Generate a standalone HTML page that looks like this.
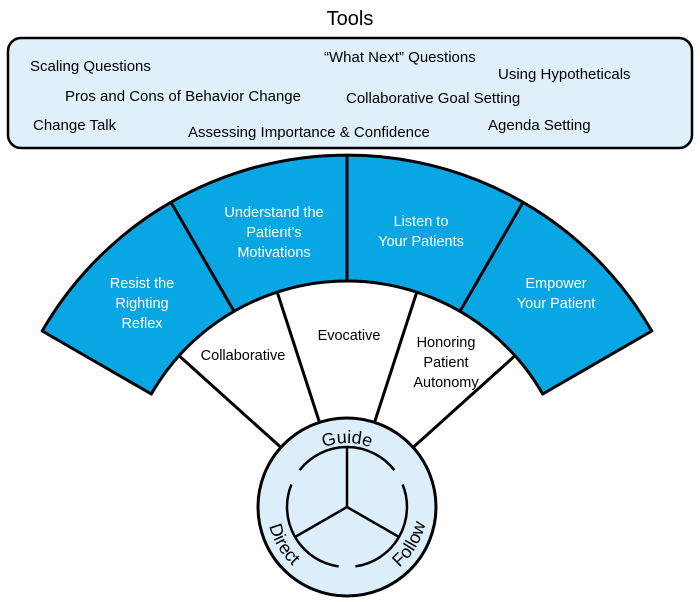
<!DOCTYPE html>
<html><head><meta charset="utf-8"><style>
body{margin:0;background:#fff;}
svg{display:block;font-family:"Liberation Sans",sans-serif;}
</style></head><body>
<svg width="700" height="602" viewBox="0 0 700 602" xmlns="http://www.w3.org/2000/svg">
<text x="350" y="25" font-size="20" text-anchor="middle" fill="#000">Tools</text>
<rect x="8" y="38" width="684" height="110" rx="13" fill="#dff0fb" stroke="#000" stroke-width="2.5"/>
<g font-size="15" fill="#000">
<text x="30" y="71">Scaling Questions</text>
<text x="324" y="62">“What Next” Questions</text>
<text x="498" y="79">Using Hypotheticals</text>
<text x="65" y="101">Pros and Cons of Behavior Change</text>
<text x="346" y="103">Collaborative Goal Setting</text>
<text x="33" y="130">Change Talk</text>
<text x="188" y="137">Assessing Importance &amp; Confidence</text>
<text x="488" y="130">Agenda Setting</text>
</g>
<!-- white band -->
<path d="M179.1,355.8 A226,226 0 0 1 514.9,355.8 L413.1,447.4 A137,137 0 0 0 280.9,447.4 Z" fill="#fff"/>
<g stroke="#000" stroke-width="3">
<line x1="179.1" y1="355.8" x2="280.9" y2="447.4"/>
<line x1="514.9" y1="355.8" x2="413.1" y2="447.4"/>
<line x1="277.2" y1="292.1" x2="319.5" y2="422.4"/>
<line x1="416.8" y1="292.1" x2="374.5" y2="422.4"/>
</g>
<!-- blue band -->
<path d="M42.2,331 A352,352 0 0 1 651.8,331 L542.7,394 A226,226 0 0 0 151.3,394 Z" fill="#09a6e4" stroke="#000" stroke-width="3" stroke-linejoin="round"/>
<g stroke="#000" stroke-width="3">
<line x1="171" y1="202.2" x2="234" y2="311.3"/>
<line x1="347" y1="155" x2="347" y2="281"/>
<line x1="523" y1="202.2" x2="460" y2="311.3"/>
</g>
<g font-size="14.5" fill="#fff" text-anchor="middle">
<text x="142" y="288">Resist the</text><text x="142" y="308">Righting</text><text x="142" y="328">Reflex</text>
<text x="274" y="217">Understand the</text><text x="274" y="237">Patient’s</text><text x="274" y="257">Motivations</text>
<text x="421" y="226">Listen to</text><text x="421" y="246">Your Patients</text>
<text x="556" y="288">Empower</text><text x="556" y="308">Your Patient</text>
</g>
<g font-size="14.5" fill="#000" text-anchor="middle">
<text x="243" y="360">Collaborative</text>
<text x="349" y="340">Evocative</text>
<text x="446" y="347">Honoring</text><text x="446" y="367">Patient</text><text x="446" y="387">Autonomy</text>
</g>
<!-- circle -->
<circle cx="347" cy="507" r="89" fill="#dceefa" stroke="#000" stroke-width="3"/>
<g stroke="#000" stroke-width="2.5" fill="none">
<path d="M394.3,470.1 A60,60 0 0 0 299.7,470.1"/>
<path d="M291.4,484.5 A60,60 0 0 0 338.6,566.4"/>
<path d="M355.4,566.4 A60,60 0 0 0 402.6,484.5"/>
<line x1="347" y1="507" x2="347" y2="447"/>
<line x1="347" y1="507" x2="295" y2="537"/>
<line x1="347" y1="507" x2="399" y2="537"/>
</g>
<defs>
<path id="pg" d="M283,507 A64,64 0 0 1 411,507"/>
<path id="pb" d="M267,507 A80,80 0 0 0 427,507"/>
</defs>
<g font-size="18" fill="#000">
<text><textPath href="#pg" startOffset="50%" text-anchor="middle">Guide</textPath></text>
<text><textPath href="#pb" startOffset="17%" text-anchor="middle">Direct</textPath></text>
<text><textPath href="#pb" startOffset="83%" text-anchor="middle">Follow</textPath></text>
</g>
</svg>
</body></html>
